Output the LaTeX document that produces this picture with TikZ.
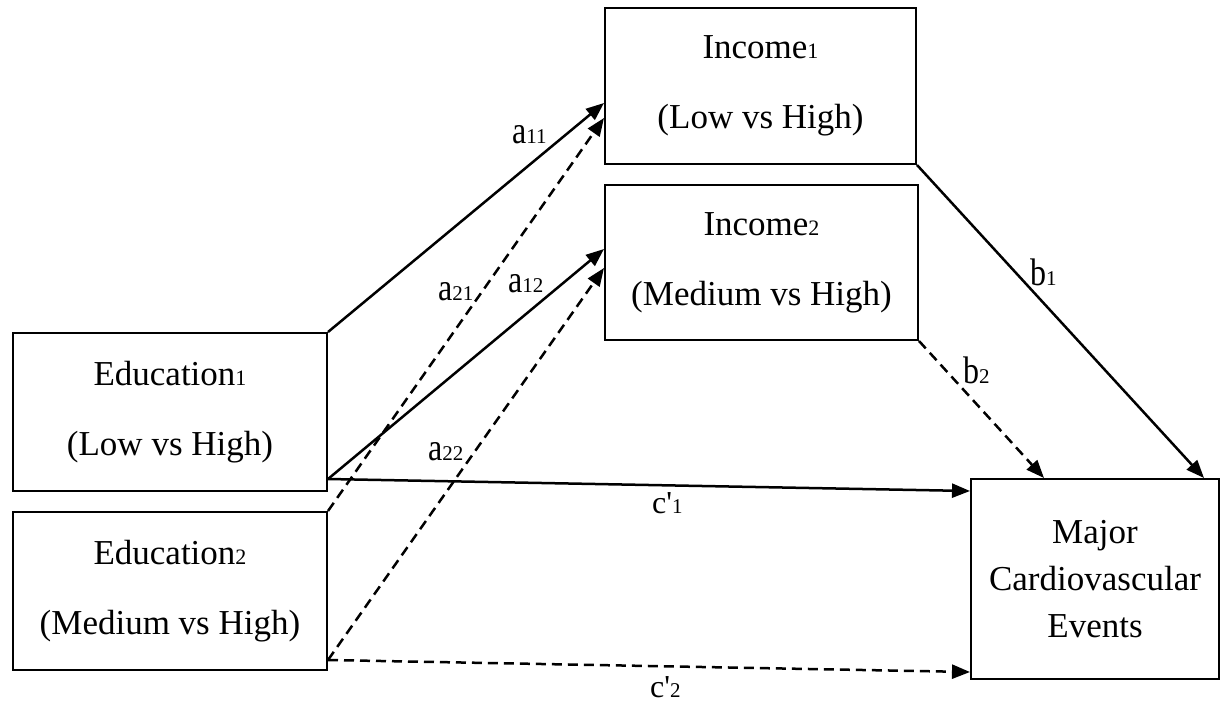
\documentclass[tikz,border=0pt]{standalone}
\usepackage{fontspec}
\setmainfont{Liberation Serif}
\usetikzlibrary{arrows.meta}
\newcommand{\bsub}[1]{{\fontsize{22}{22}\selectfont #1}}
\newcommand{\lsub}[1]{{\fontsize{21}{21}\selectfont #1}}
\newcommand{\tall}[1]{\scalebox{1}[1.2]{#1}}
\tikzset{
  box/.style={draw, line width=2pt, rectangle, inner sep=0pt, align=center,
    font=\fontsize{35}{70}\selectfont},
  lab/.style={anchor=base west, inner sep=0pt, font=\fontsize{32}{32}\selectfont},
  conn/.style={line width=2.5pt, -{Triangle[length=18pt,width=14pt]}},
  dsh/.style={conn, dash pattern=on 10pt off 6pt},
}
\begin{document}
\begin{tikzpicture}[x=1pt,y=-1pt]
\useasboundingbox (0,0) rectangle (1222,707);
\node[box, minimum width=311pt, minimum height=156pt] (inc1) at (760.5,86) {Income\bsub{1}\\(Low vs High)};
\node[box, minimum width=313pt, minimum height=155pt] (inc2) at (761.5,262.5) {Income\bsub{2}\\(Medium vs High)};
\node[box, minimum width=314pt, minimum height=158pt] (edu1) at (170,412) {Education\bsub{1}\\(Low vs High)};
\node[box, minimum width=314pt, minimum height=158pt] (edu2) at (170,591) {Education\bsub{2}\\(Medium vs High)};
\node[box, minimum width=248pt, minimum height=200pt, font=\fontsize{35}{47}\selectfont] (mce) at (1095,579) {Major\\Cardiovascular\\Events};

\draw[conn] (edu1.north east) -- ([yshift=-17pt]inc1.west);
\draw[dsh] (edu2.north east) -- ([yshift=-32pt]inc1.west);
\draw[conn] ([yshift=13pt]edu1.south east) -- ([yshift=13.5pt]inc2.west);
\draw[dsh] ([yshift=11pt]edu2.south east) -- ([yshift=-5.5pt]inc2.west);
\draw[conn] ([yshift=13pt]edu1.south east) -- ([yshift=-13pt]mce.north west);
\draw[dsh] ([yshift=11pt]edu2.south east) -- ([yshift=8pt]mce.south west);
\draw[conn] (inc1.south east) -- ([xshift=-16pt]mce.north east);
\draw[dsh] (inc2.south east) -- ([xshift=74pt]mce.north west);

\node[lab] (la11) at (512,143) {\tall{a}\lsub{11}};
\node[lab] (la21) at (438,300) {\tall{a}\lsub{21}};
\node[lab] (la12) at (508,292) {\tall{a}\lsub{12}};
\node[lab] (la22) at (428,460) {\tall{a}\lsub{22}};
\node[lab] (lb1) at (1030,285) {\tall{b}\lsub{1}};
\node[lab] (lb2) at (963,383) {\tall{b}\lsub{2}};
\node[lab] (lc1) at (652,513) {c\textquotesingle\lsub{1}};
\node[lab] (lc2) at (650,697) {c\textquotesingle\lsub{2}};
\end{tikzpicture}
\end{document}
